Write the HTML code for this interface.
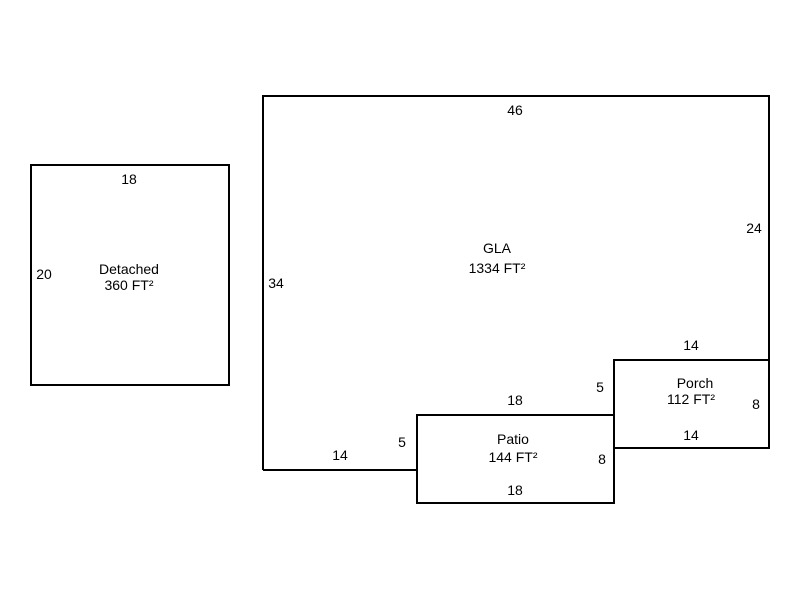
<!DOCTYPE html>
<html><head><style>body{margin:0;background:#fff}svg{display:block}text{font-family:"Liberation Sans",Arial,sans-serif;font-size:14px;fill:#000}</style></head>
<body>
<svg width="800" height="600" viewBox="0 0 800 600" xmlns="http://www.w3.org/2000/svg">
<g fill="none" stroke="#000" stroke-width="2">
<rect x="31" y="165" width="198" height="220"/>
<polyline points="263,470 263,96 769,96 769,448 614,448"/>
<line x1="263" y1="470" x2="417" y2="470"/>
<rect x="614" y="360" width="155" height="88"/>
<rect x="417" y="415" width="197" height="88"/>
</g>
<g text-anchor="middle">
<text x="129" y="184">18</text>
<text x="44" y="279">20</text>
<text x="129" y="274">Detached</text>
<text x="129" y="290">360 FT²</text>
<text x="515" y="115">46</text>
<text x="497" y="253">GLA</text>
<text x="497" y="273">1334 FT²</text>
<text x="276" y="288">34</text>
<text x="754" y="233">24</text>
<text x="691" y="350">14</text>
<text x="695" y="388">Porch</text>
<text x="691" y="404">112 FT²</text>
<text x="756" y="409">8</text>
<text x="691" y="440">14</text>
<text x="600" y="392">5</text>
<text x="515" y="405">18</text>
<text x="513" y="444">Patio</text>
<text x="513" y="462">144 FT²</text>
<text x="602" y="464">8</text>
<text x="515" y="495">18</text>
<text x="402" y="447">5</text>
<text x="340" y="460">14</text>
</g>
</svg>
</body></html>
